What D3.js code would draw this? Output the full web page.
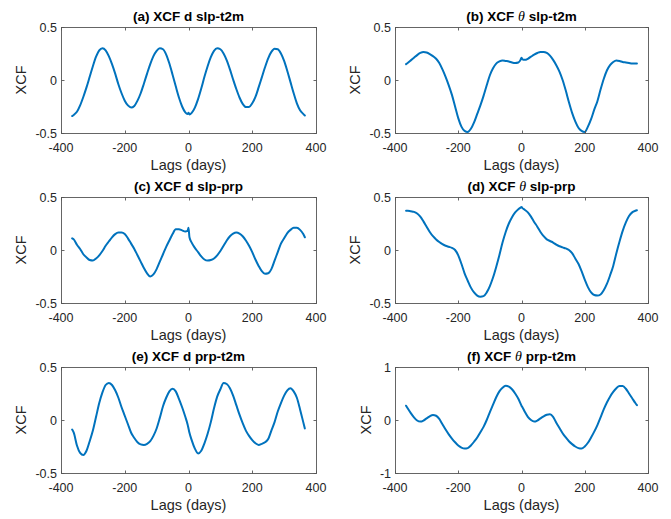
<!DOCTYPE html>
<html><head><meta charset="utf-8">
<script src="https://cdn.jsdelivr.net/npm/d3@7"></script>
<style>
html,body{margin:0;padding:0;background:#fff;}
svg{display:block;font-family:"Liberation Sans",Arial,Helvetica,sans-serif;}
</style></head>
<body><svg id="c" width="671" height="519"></svg>
<script>
// Lags (days)
const lags = [-365,-360,-350,-340,-330,-320,-310,-300,-290,-280,-270,-260,-250,-240,-230,-220,-210,-200,-190,-180,-170,-160,-150,-140,-130,-120,-110,-100,-90,-80,-70,-60,-50,-40,-30,-20,-10,-3,0,3,10,20,30,40,50,60,70,80,90,100,110,120,130,140,150,160,170,180,190,200,210,220,230,240,250,260,270,280,290,300,310,320,330,340,350,360,365];

// (a) XCF d slp-t2m
const xcfA = [-0.34,-0.33,-0.30,-0.24,-0.16,-0.07,0.03,0.13,0.22,0.28,0.30,0.28,0.225,0.15,0.06,-0.04,-0.125,-0.195,-0.24,-0.26,-0.245,-0.195,-0.125,-0.035,0.06,0.15,0.225,0.275,0.30,0.29,0.24,0.155,0.05,-0.06,-0.165,-0.25,-0.305,-0.32,-0.31,-0.325,-0.31,-0.26,-0.18,-0.08,0.03,0.13,0.215,0.275,0.30,0.29,0.25,0.185,0.10,0.005,-0.085,-0.165,-0.225,-0.255,-0.255,-0.22,-0.16,-0.07,0.025,0.12,0.205,0.265,0.295,0.29,0.25,0.18,0.085,-0.02,-0.125,-0.22,-0.285,-0.32,-0.335];
// (b) XCF theta slp-t2m
const xcfB = [0.15,0.16,0.185,0.21,0.235,0.255,0.265,0.26,0.245,0.225,0.20,0.16,0.10,0.03,-0.05,-0.14,-0.25,-0.36,-0.44,-0.48,-0.49,-0.46,-0.40,-0.32,-0.24,-0.15,-0.05,0.045,0.11,0.155,0.175,0.185,0.18,0.175,0.165,0.16,0.165,0.19,0.21,0.195,0.19,0.20,0.22,0.24,0.255,0.265,0.265,0.255,0.23,0.19,0.14,0.08,0.0,-0.10,-0.21,-0.31,-0.39,-0.45,-0.48,-0.49,-0.44,-0.37,-0.28,-0.20,-0.09,0.01,0.09,0.14,0.17,0.185,0.18,0.17,0.165,0.16,0.155,0.155,0.155];
// (c) XCF d slp-prp
const xcfC = [0.11,0.10,0.05,0.01,-0.04,-0.07,-0.095,-0.10,-0.08,-0.05,-0.01,0.04,0.08,0.12,0.15,0.165,0.165,0.15,0.11,0.06,0.01,-0.05,-0.11,-0.17,-0.22,-0.25,-0.23,-0.18,-0.11,-0.04,0.03,0.09,0.15,0.195,0.195,0.185,0.175,0.18,0.21,0.12,0.07,0.02,-0.02,-0.06,-0.09,-0.10,-0.095,-0.08,-0.05,-0.01,0.04,0.09,0.13,0.155,0.165,0.155,0.13,0.09,0.04,-0.02,-0.09,-0.15,-0.20,-0.225,-0.22,-0.18,-0.10,-0.02,0.06,0.11,0.16,0.19,0.21,0.21,0.19,0.15,0.12];
// (d) XCF theta slp-prp
const xcfD = [0.37,0.37,0.365,0.36,0.345,0.315,0.27,0.22,0.17,0.13,0.10,0.075,0.055,0.04,0.03,0.02,0.0,-0.05,-0.13,-0.22,-0.29,-0.355,-0.40,-0.43,-0.44,-0.435,-0.40,-0.34,-0.26,-0.16,-0.05,0.07,0.17,0.25,0.31,0.355,0.385,0.40,0.405,0.395,0.38,0.355,0.315,0.265,0.22,0.17,0.13,0.10,0.085,0.07,0.05,0.035,0.025,0.015,0.0,-0.03,-0.08,-0.13,-0.20,-0.28,-0.35,-0.40,-0.425,-0.43,-0.42,-0.38,-0.32,-0.24,-0.15,-0.03,0.08,0.18,0.26,0.32,0.355,0.37,0.375];
// (e) XCF d prp-t2m
const xcfE = [-0.09,-0.12,-0.24,-0.31,-0.33,-0.29,-0.20,-0.10,0.03,0.16,0.26,0.33,0.35,0.33,0.28,0.21,0.12,0.04,-0.04,-0.12,-0.17,-0.21,-0.23,-0.235,-0.225,-0.20,-0.15,-0.08,0.02,0.13,0.21,0.27,0.295,0.27,0.20,0.12,0.03,-0.04,-0.08,-0.12,-0.19,-0.27,-0.315,-0.29,-0.22,-0.13,-0.02,0.11,0.22,0.29,0.35,0.34,0.30,0.23,0.14,0.05,-0.03,-0.10,-0.15,-0.19,-0.22,-0.235,-0.225,-0.21,-0.18,-0.10,-0.02,0.08,0.16,0.23,0.28,0.30,0.27,0.21,0.10,-0.02,-0.08];
// (f) XCF theta prp-t2m
const xcfF = [0.27,0.22,0.13,0.05,-0.01,-0.03,-0.01,0.03,0.07,0.095,0.08,0.02,-0.08,-0.18,-0.27,-0.35,-0.42,-0.48,-0.52,-0.54,-0.53,-0.48,-0.41,-0.33,-0.23,-0.13,0.0,0.15,0.29,0.43,0.54,0.61,0.645,0.63,0.58,0.50,0.40,0.31,0.27,0.24,0.16,0.06,0.0,-0.03,-0.01,0.03,0.07,0.10,0.11,0.06,-0.05,-0.15,-0.25,-0.33,-0.40,-0.455,-0.50,-0.53,-0.54,-0.50,-0.43,-0.33,-0.22,-0.095,0.05,0.20,0.33,0.44,0.53,0.60,0.64,0.64,0.59,0.50,0.41,0.32,0.28];

const panelLetters = ["(a)","(b)","(c)","(d)","(e)","(f)"];
const panelSymbols = ["d","θ","d","θ","d","θ"];
const panelPairs = ["slp-t2m","slp-t2m","slp-prp","slp-prp","prp-t2m","prp-t2m"];
const xTicks = [-400,-200,0,200,400];
const xTickLabels = ["-400","-200","0","200","400"];
const yTicksHalf = [-0.5,0,0.5];
const yTickLabelsHalf = ["-0.5","0","0.5"];
const yTicksOne = [-1,0,1];
const yTickLabelsOne = ["-1","0","1"];
const xLabel = "Lags (days)";
const yLabel = "XCF";

const series = [xcfA,xcfB,xcfC,xcfD,xcfE,xcfF];
series.forEach((s,i)=>{ if(s.length!==lags.length) throw new Error("series "+i+" length "+s.length); });

const svg = d3.select("#c");
const cols = [{x0:61,x1:316},{x0:395,x1:648}];
const rows = [{y0:27,y1:133},{y0:197,y1:303},{y0:367,y1:473}];
const axisColor = "#262626";
const frameColor = "#555555";
const lineColor = "#0072BD";
const tickLen = 3;

series.forEach((vals,i)=>{
  const c = cols[i%2], r = rows[Math.floor(i/2)];
  const isOne = i===5;
  const yT = isOne ? yTicksOne : yTicksHalf;
  const yTL = isOne ? yTickLabelsOne : yTickLabelsHalf;
  const x = d3.scaleLinear().domain([-400,400]).range([c.x0,c.x1]);
  const y = d3.scaleLinear().domain(isOne?[-1,1]:[-0.5,0.5]).range([r.y1,r.y0]);
  const g = svg.append("g");

  // data line
  const line = d3.line().x((d,k)=>x(lags[k])).y(d=>y(d)).curve(d3.curveMonotoneX);
  g.append("path").datum(vals).attr("d",line)
    .attr("fill","none").attr("stroke",lineColor).attr("stroke-width",2)
    .attr("stroke-linejoin","round").attr("stroke-linecap","round");

  // frame
  g.append("rect").attr("x",c.x0+0.5).attr("y",r.y0+0.5)
    .attr("width",c.x1-c.x0).attr("height",r.y1-r.y0)
    .attr("fill","none").attr("stroke",frameColor).attr("stroke-width",0.9);

  // x ticks (bottom + top, inward)
  xTicks.forEach((t,k)=>{
    const px = Math.round(x(t))+0.5;
    g.append("line").attr("x1",px).attr("x2",px).attr("y1",r.y1+0.5).attr("y2",r.y1+0.5-tickLen)
      .attr("stroke",frameColor).attr("stroke-width",0.9);
    g.append("line").attr("x1",px).attr("x2",px).attr("y1",r.y0+0.5).attr("y2",r.y0+0.5+tickLen)
      .attr("stroke",frameColor).attr("stroke-width",0.9);
    g.append("text").attr("x",x(t)).attr("y",r.y1+19).attr("text-anchor","middle")
      .attr("font-size",12.5).attr("fill",axisColor).text(xTickLabels[k]);
  });
  // y ticks (left + right, inward)
  let maxW = 0;
  yT.forEach((t,k)=>{
    const py = Math.round(y(t))+0.5;
    g.append("line").attr("x1",c.x0+0.5).attr("x2",c.x0+0.5+tickLen).attr("y1",py).attr("y2",py)
      .attr("stroke",frameColor).attr("stroke-width",0.9);
    g.append("line").attr("x1",c.x1+0.5).attr("x2",c.x1+0.5-tickLen).attr("y1",py).attr("y2",py)
      .attr("stroke",frameColor).attr("stroke-width",0.9);
    const tx = g.append("text").attr("x",c.x0-4).attr("y",y(t)+4.5).attr("text-anchor","end")
      .attr("font-size",12.5).attr("fill",axisColor).text(yTL[k]);
    maxW = Math.max(maxW, tx.node().getComputedTextLength());
  });
  // x label
  g.append("text").attr("x",(c.x0+c.x1)/2).attr("y",r.y1+37).attr("text-anchor","middle")
    .attr("font-size",14.5).attr("fill",axisColor).text(xLabel);
  // y label
  const ylx = c.x0 - 4 - maxW - 9;
  const ylc = (r.y0+r.y1)/2;
  g.append("text").attr("transform",`translate(${ylx},${ylc}) rotate(-90)`)
    .attr("text-anchor","middle").attr("font-size",14.5).attr("fill",axisColor).text(yLabel);
  // title
  const tt = g.append("text").attr("x",(c.x0+c.x1)/2).attr("y",r.y0-6.5).attr("text-anchor","middle")
    .attr("font-size",13.5).attr("font-weight","bold").attr("fill","#000");
  tt.append("tspan").text(panelLetters[i]+" XCF ");
  const sym = panelSymbols[i];
  if(sym==="θ"){
    tt.append("tspan").attr("font-family","'Liberation Serif','DejaVu Serif',serif")
      .attr("font-style","italic").attr("font-weight","normal").attr("font-size",14).text(sym);
  } else {
    tt.append("tspan").text(sym);
  }
  tt.append("tspan").text(" "+panelPairs[i]);
});
</script>
</body></html>
